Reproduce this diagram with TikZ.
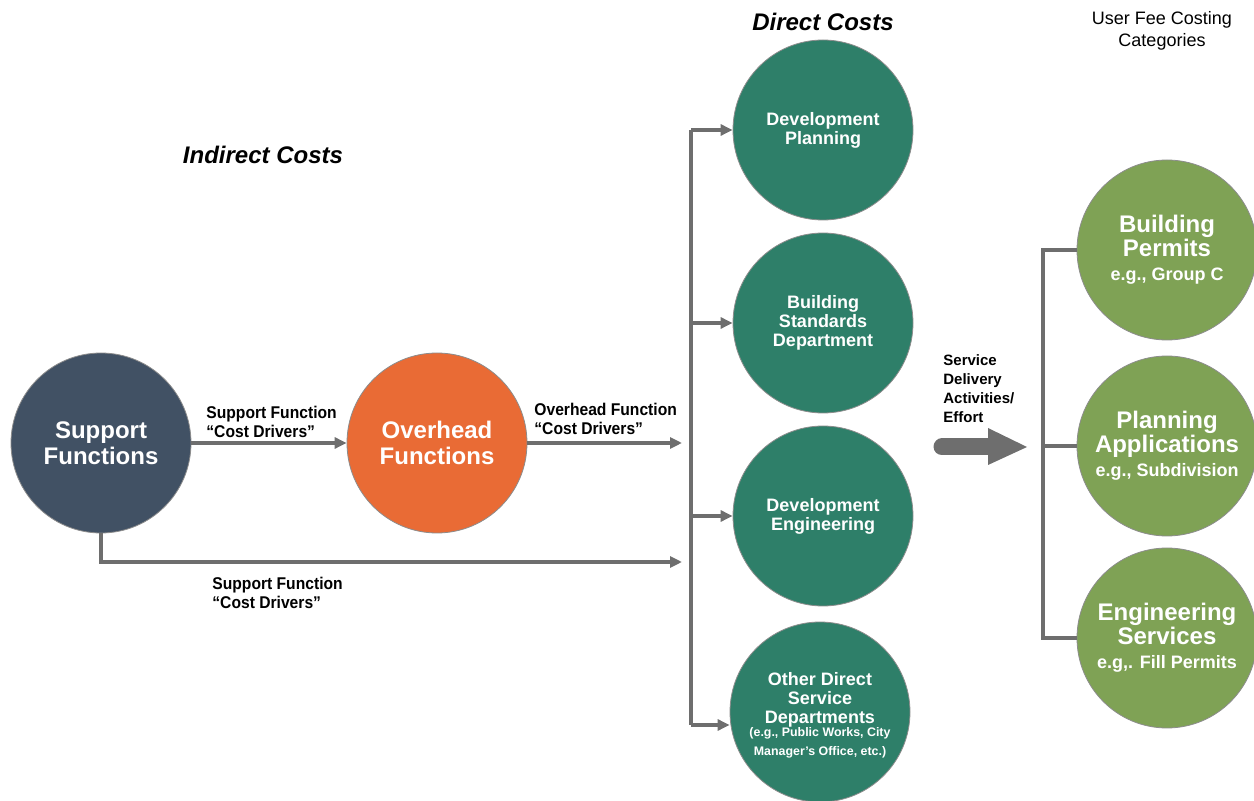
\documentclass[tikz,border=0pt]{standalone}
\usepackage{fontspec}
\setmainfont{Liberation Sans}
\newfontfamily\narrowfont[FakeStretch=0.92]{Liberation Sans}
\usetikzlibrary{arrows.meta,shapes.geometric}
\definecolor{slate}{HTML}{415164}
\definecolor{orangec}{HTML}{E96B35}
\definecolor{tealc}{HTML}{2E7F69}
\definecolor{greenc}{HTML}{7FA255}
\definecolor{conngray}{HTML}{6E6E6E}
\tikzset{
  bubble/.style={circle, minimum size=90pt, inner sep=0pt, draw=black!45, line width=0.4pt, text=white, align=center},
  bigtxt/.style={font=\fontsize{12}{13}\selectfont\bfseries},
  midtxt/.style={font=\fontsize{9}{9.5}\selectfont\bfseries},
  grtxt/.style={font=\fontsize{12}{12}\selectfont\bfseries},
  conn/.style={draw=conngray, line width=1.6pt, -{Triangle[length=6pt,width=5.5pt]}},
  plain/.style={draw=conngray, line width=1.6pt},
  lbl/.style={font=\narrowfont\fontsize{8.5}{9.5}\selectfont\bfseries, align=left, anchor=west, inner sep=0pt},
  ttl/.style={font=\fontsize{12}{12}\selectfont\bfseries\itshape, inner sep=0pt}
}
\begin{document}
\begin{tikzpicture}[x=0.5pt,y=-0.5pt]
\useasboundingbox (0,0) rectangle (1254,801);

% titles
\node[ttl] (tind) at (263,155) {Indirect Costs};
\node[ttl] (tdir) at (823,22) {Direct Costs};
\node[font=\fontsize{9}{11}\selectfont, align=center, inner sep=0pt] (tfee) at (1162,31) {User Fee Costing\\Categories};

% indirect
\node[bubble, fill=slate, bigtxt] (sf) at (101,443) {Support\\Functions};
\node[bubble, fill=orangec, bigtxt] (of) at (437,443) {Overhead\\Functions};

% direct
\node[bubble, fill=tealc, midtxt] (dp) at (823,130) {Development\\Planning};
\node[bubble, fill=tealc, midtxt] (bs) at (823,323) {Building\\Standards\\Department};
\node[bubble, fill=tealc, midtxt] (de) at (823,516) {Development\\Engineering};
\node[bubble, fill=tealc, midtxt] (od) at (820,712) {};
\node[midtxt, text=white, align=center, inner sep=0pt] (odt) at (820,715) {Other Direct\\Service\\Departments\\[-3pt]{\fontsize{6.2}{8.5}\selectfont (e.g., Public Works, City}\\{\fontsize{6.2}{8.5}\selectfont Manager’s Office, etc.)}};

% fee categories
\node[bubble, fill=greenc, grtxt] (bp) at (1167,250) {Building\\Permits\\{\fontsize{9}{12}\selectfont e.g., Group C}};
\node[bubble, fill=greenc, grtxt] (pa) at (1167,446) {Planning\\Applications\\{\fontsize{9}{12}\selectfont e.g., Subdivision}};
\node[bubble, fill=greenc, grtxt] (es) at (1167,638) {Engineering\\Services\\{\fontsize{9}{12}\selectfont e.g,. Fill Permits}};

% labels
\node[lbl] (l1) at (206,421.5) {Support Function\\“Cost Drivers”};
\node[lbl] (l2) at (534,418.5) {Overhead Function\\“Cost Drivers”};
\node[lbl] (l3) at (212,592.5) {Support Function\\“Cost Drivers”};
\node[font=\fontsize{7.5}{9.5}\selectfont\bfseries, align=left, anchor=west, inner sep=0pt] (sd) at (943,388.5) {Service\\Delivery\\Activities/\\Effort};

% connectors indirect
\coordinate (hub1) at (682,443);
\coordinate (hub2) at (682,562);
\draw[conn] (sf) -- (of);
\draw[conn] (of) -- (hub1);
\draw[conn] (sf.south) |- (hub2);

% distribution bus
\coordinate (vtop) at (691,130);
\coordinate (vbs) at (691,323);
\coordinate (vde) at (691,516);
\coordinate (vbot) at (691,725);
\draw[plain] (vtop) -- (vbot);
\draw[conn] (vtop) -- (dp.west);
\draw[conn] (vbs) -- (bs.west);
\draw[conn] (vde) -- (de.west);
\draw[conn] (vbot) -- (vbot -| od.west);

% big arrow
\coordinate (ba1) at (942,447);
\coordinate (ba2) at (992,447);
\coordinate (bat) at (1027,447);
\draw[conngray, line width=8.5pt, line cap=round] (ba1) -- (ba2);
\fill[conngray] (988,428) -- (bat) -- (988,465) -- cycle;

% bracket
\coordinate (b1) at (1043,250);
\coordinate (b2) at (1043,446);
\coordinate (b3) at (1043,638);
\draw[plain] (bp.west) -- (b1) -- (b3) -- (es.west);
\draw[plain] (b2) -- (pa.west);
\end{tikzpicture}
\end{document}
